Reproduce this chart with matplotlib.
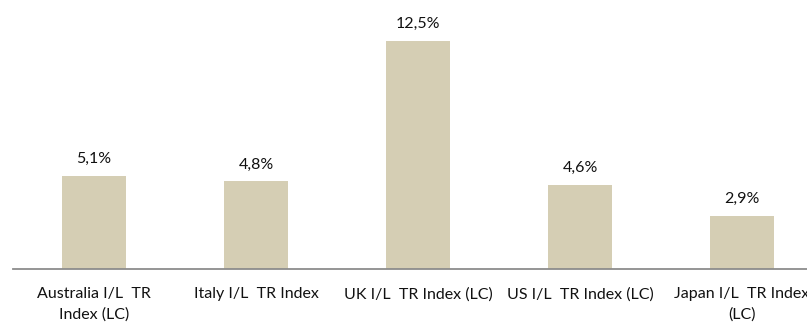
import matplotlib
matplotlib.use("Agg")
import matplotlib.pyplot as plt

categories = [
    "Australia I/L  TR\nIndex (LC)",
    "Italy I/L  TR Index",
    "UK I/L  TR Index (LC)",
    "US I/L  TR Index (LC)",
    "Japan I/L  TR Index\n(LC)",
]
returns = [5.1, 4.8, 12.5, 4.6, 2.9]
labels = ["5,1%", "4,8%", "12,5%", "4,6%", "2,9%"]

plt.rcParams["font.family"] = ["Lato", "DejaVu Sans"]

W, H = 807, 327
fig = plt.figure(figsize=(W / 100, H / 100), dpi=100)
# axes run slightly past the right edge so the last label gets cut like the source
ax = fig.add_axes([13 / W, (H - 269) / H, 810 / W, 269 / H])

x = range(len(categories))
bars = ax.bar(x, returns, width=0.395, color="#d5ceb4")

for b, txt in zip(bars, labels):
    ax.annotate(txt, (b.get_x() + b.get_width() / 2, b.get_height()),
                xytext=(0, 7), textcoords="offset points",
                ha="center", va="bottom", fontsize=11.5, color="#111111")

ax.set_xlim(-0.5, len(categories) - 0.5)
ax.set_ylim(0, 14.75)
ax.set_xticks(list(x))
ax.set_xticklabels(categories, fontsize=11.5, color="#111111", linespacing=1.55)
ax.tick_params(axis="x", length=0, pad=13)
ax.set_yticks([])

for s in ["top", "right", "left"]:
    ax.spines[s].set_visible(False)
ax.spines["bottom"].set_color("#8c8c8c")
ax.spines["bottom"].set_linewidth(1.3)

fig.savefig("out.png", dpi=100)
